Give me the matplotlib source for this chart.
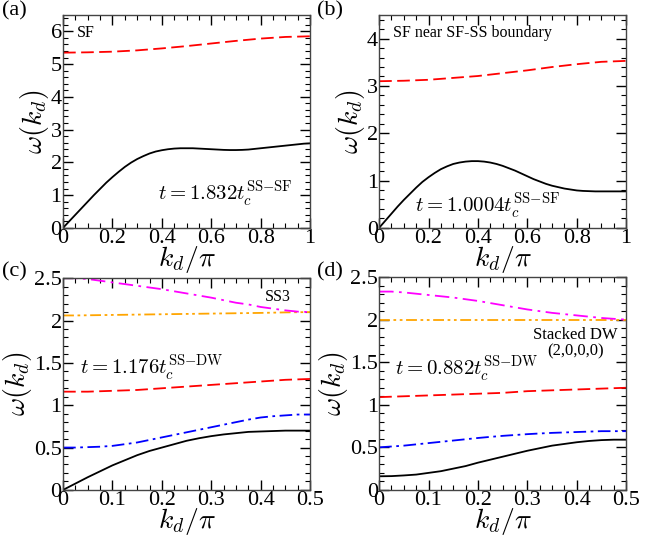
import matplotlib
matplotlib.use("Agg")
import matplotlib.pyplot as plt
import numpy as np
from matplotlib.ticker import MultipleLocator

plt.rcParams["font.family"] = "serif"
plt.rcParams["font.serif"] = ["Liberation Serif", "DejaVu Serif"]
plt.rcParams["mathtext.fontset"] = "cm"

# panel (a): SF
kd_a = np.arange(41) * 0.025
black_a = [0, 0.2, 0.4, 0.6, 0.8, 1.0, 1.19, 1.38, 1.55, 1.71, 1.86, 1.99, 2.1, 2.19, 2.27, 2.33,
           2.37, 2.4, 2.42, 2.43, 2.43, 2.43, 2.42, 2.41, 2.4, 2.39, 2.38, 2.375, 2.375, 2.38, 2.39,
           2.41, 2.43, 2.45, 2.47, 2.49, 2.51, 2.53, 2.55, 2.57, 2.58]
kd_a_red = np.arange(11) * 0.1
red_a = [5.35, 5.36, 5.38, 5.42, 5.48, 5.55, 5.63, 5.71, 5.78, 5.83, 5.85]

# panel (b): SF near SF-SS boundary
kd_b = np.arange(41) * 0.025
black_b = [0, 0.15, 0.3, 0.45, 0.59, 0.72, 0.85, 0.97, 1.07, 1.16, 1.24, 1.3, 1.35, 1.38, 1.4, 1.41,
           1.41, 1.4, 1.38, 1.35, 1.31, 1.26, 1.21, 1.15, 1.09, 1.03, 0.98, 0.93, 0.89, 0.86, 0.83,
           0.81, 0.79, 0.78, 0.775, 0.77, 0.77, 0.77, 0.77, 0.77, 0.77]
kd_b_red = np.arange(11) * 0.1
red_b = [3.1, 3.11, 3.13, 3.17, 3.21, 3.27, 3.33, 3.4, 3.46, 3.51, 3.53]

# panel (c): SS3
kd_c = np.arange(21) * 0.025
black_c = [0, 0.075, 0.15, 0.22, 0.29, 0.35, 0.41, 0.46, 0.5, 0.54, 0.58, 0.61, 0.635, 0.655,
           0.67, 0.685, 0.69, 0.695, 0.7, 0.7, 0.7]
blue_c = [0.5, 0.5, 0.505, 0.51, 0.52, 0.54, 0.56, 0.59, 0.62, 0.65, 0.68, 0.71, 0.74, 0.77,
          0.8, 0.83, 0.855, 0.87, 0.88, 0.89, 0.89]
red_c = [1.16, 1.16, 1.16, 1.165, 1.17, 1.175, 1.18, 1.19, 1.2, 1.21, 1.22, 1.23, 1.24, 1.25,
         1.26, 1.27, 1.28, 1.29, 1.3, 1.305, 1.31]
orange_c = [2.06, 2.06, 2.062, 2.064, 2.066, 2.068, 2.07, 2.072, 2.074, 2.076, 2.078, 2.08,
            2.082, 2.084, 2.086, 2.088, 2.09, 2.093, 2.096, 2.098, 2.1]
magenta_c = [2.5, 2.5, 2.49, 2.47, 2.45, 2.43, 2.41, 2.39, 2.37, 2.345, 2.32, 2.295, 2.27,
             2.24, 2.21, 2.19, 2.16, 2.14, 2.12, 2.105, 2.1]

# panel (d): stacked DW
kd_d = np.arange(21) * 0.025
black_d = [0.16, 0.162, 0.17, 0.18, 0.2, 0.22, 0.25, 0.28, 0.32, 0.355, 0.39, 0.425, 0.46, 0.49,
           0.52, 0.54, 0.56, 0.575, 0.585, 0.59, 0.59]
blue_d = [0.5, 0.51, 0.52, 0.535, 0.55, 0.565, 0.58, 0.595, 0.61, 0.623, 0.635, 0.645, 0.655,
          0.663, 0.67, 0.675, 0.68, 0.685, 0.69, 0.69, 0.69]
red_d = [1.09, 1.095, 1.1, 1.105, 1.11, 1.115, 1.12, 1.125, 1.13, 1.135, 1.14, 1.15, 1.16,
         1.165, 1.17, 1.175, 1.18, 1.185, 1.19, 1.195, 1.2]
orange_d = [2.0] * 21
magenta_d = [2.33, 2.33, 2.32, 2.305, 2.29, 2.275, 2.26, 2.24, 2.22, 2.195, 2.17, 2.145, 2.12,
             2.1, 2.08, 2.065, 2.05, 2.035, 2.02, 2.01, 2.0]

fig = plt.figure(figsize=(6.64, 5.36), dpi=100)
ax_a = fig.add_axes([0.095, 0.575, 0.372, 0.397])
ax_b = fig.add_axes([0.571, 0.575, 0.372, 0.397])
ax_c = fig.add_axes([0.095, 0.086, 0.372, 0.395])
ax_d = fig.add_axes([0.571, 0.086, 0.372, 0.397])

lw = 1.3
dash_red = (0, (7, 3))
dash_blue = (0, (7, 2.5, 1.5, 2.5))
dash_orange = (0, (6, 2, 1.5, 2, 1.5, 2))
dash_mag = (0, (8, 3, 1.5, 3))

ax_a.plot(kd_a, black_a, color="black", lw=lw)
ax_a.plot(kd_a_red, red_a, color="red", lw=lw, ls=dash_red)
ax_b.plot(kd_b, black_b, color="black", lw=lw)
ax_b.plot(kd_b_red, red_b, color="red", lw=lw, ls=dash_red)

for ax, kd, bk, bl, rd, og, mg in [
    (ax_c, kd_c, black_c, blue_c, red_c, orange_c, magenta_c),
    (ax_d, kd_d, black_d, blue_d, red_d, orange_d, magenta_d),
]:
    ax.plot(kd, bk, color="black", lw=lw)
    ax.plot(kd, bl, color="blue", lw=lw, ls=dash_blue)
    ax.plot(kd, rd, color="red", lw=lw, ls=dash_red)
    ax.plot(kd, og, color="orange", lw=lw, ls=dash_orange)
    ax.plot(kd, mg, color="magenta", lw=lw, ls=dash_mag)

ax_a.set_xlim(0, 1)
ax_a.set_ylim(0, 6.5)
ax_b.set_xlim(0, 1)
ax_b.set_ylim(0, 4.5)
for ax in (ax_a, ax_b):
    ax.xaxis.set_minor_locator(MultipleLocator(0.05))
    ax.yaxis.set_minor_locator(MultipleLocator(0.2))
    ax.set_xticks([0, 0.2, 0.4, 0.6, 0.8, 1.0])
    ax.set_xticklabels(["0", "0.2", "0.4", "0.6", "0.8", "1"])
for ax in (ax_c, ax_d):
    ax.set_xlim(0, 0.5)
    ax.set_ylim(0, 2.5)
    ax.xaxis.set_minor_locator(MultipleLocator(0.025))
    ax.yaxis.set_minor_locator(MultipleLocator(0.1))
    ax.set_xticks([0, 0.1, 0.2, 0.3, 0.4, 0.5])
    ax.set_xticklabels(["0", "0.1", "0.2", "0.3", "0.4", "0.5"])
    ax.set_yticks([0, 0.5, 1, 1.5, 2, 2.5])
    ax.set_yticklabels(["0", "0.5", "1", "1.5", "2", "2.5"])
ax_a.set_yticks(range(7))
ax_a.set_yticklabels([str(v) for v in range(7)])
ax_b.set_yticks(range(5))
ax_b.set_yticklabels([str(v) for v in range(5)])

for ax in (ax_a, ax_b, ax_c, ax_d):
    ax.tick_params(which="both", direction="in", top=True, right=True, labelsize=16, pad=1)
    ax.tick_params(which="major", length=7, width=1)
    ax.tick_params(which="minor", length=3.5, width=0.8)
    for s in ax.spines.values():
        s.set_linewidth(1)
        s.set_color("#444444")
    ax.set_xlabel(r"$k_d/\pi$", fontsize=20, labelpad=-3)
    ax.set_ylabel(r"$\omega(k_d)$", fontsize=20, labelpad=0)

ax_a.text(0.055, 0.915, "SF", transform=ax_a.transAxes, fontsize=11.5, va="center")
ax_a.text(0.385, 0.13, r"$t=1.832t_c^{\mathrm{SS{-}SF}}$", transform=ax_a.transAxes, fontsize=15)
ax_b.text(0.055, 0.915, "SF near SF-SS boundary", transform=ax_b.transAxes, fontsize=11.5, va="center")
ax_b.text(0.145, 0.07, r"$t=1.0004t_c^{\mathrm{SS{-}SF}}$", transform=ax_b.transAxes, fontsize=15)
ax_c.text(0.87, 0.91, "SS3", transform=ax_c.transAxes, fontsize=11.5, ha="center", va="center")
ax_c.text(0.07, 0.545, r"$t=1.176t_c^{\mathrm{SS{-}DW}}$", transform=ax_c.transAxes, fontsize=15)
ax_d.text(0.795, 0.73, "Stacked DW", transform=ax_d.transAxes, fontsize=12, ha="center", va="center")
ax_d.text(0.795, 0.65, "(2,0,0,0)", transform=ax_d.transAxes, fontsize=12, ha="center", va="center")
ax_d.text(0.065, 0.54, r"$t=0.882t_c^{\mathrm{SS{-}DW}}$", transform=ax_d.transAxes, fontsize=15)

fig.text(0.003, 0.998, "(a)", fontsize=16, va="top")
fig.text(0.478, 0.998, "(b)", fontsize=16, va="top")
fig.text(0.003, 0.51, "(c)", fontsize=16, va="top")
fig.text(0.478, 0.51, "(d)", fontsize=16, va="top")

fig.savefig("out.png", dpi=100)
